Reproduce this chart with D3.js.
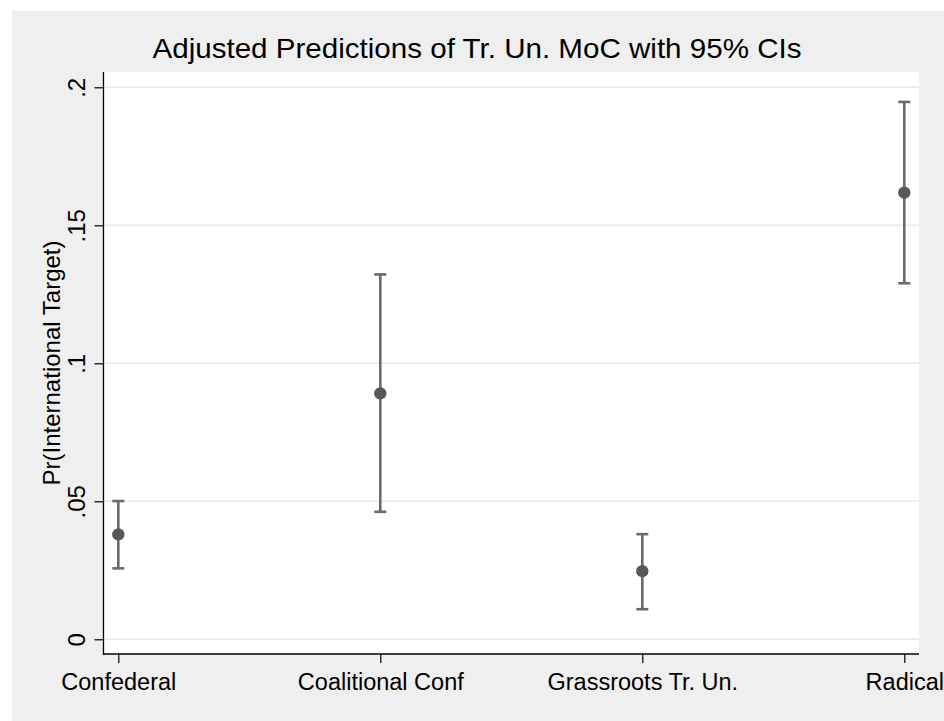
<!DOCTYPE html>
<html>
<head>
<meta charset="utf-8">
<script src="https://cdn.jsdelivr.net/npm/d3@7"></script>
<style>
  html, body { margin: 0; padding: 0; background: #ffffff; }
  svg { display: block; font-family: "Liberation Sans", Arial, Helvetica, sans-serif; }
</style>
</head>
<body>
<svg id="chart" width="944" height="721"></svg>
<script>
// ---- data ----
const categories = ["Confederal", "Coalitional Conf", "Grassroots Tr. Un.", "Radical"];
const estimates  = [0.0380, 0.0891, 0.0247, 0.1618];
const ciLower    = [0.0257, 0.0462, 0.0109, 0.1290];
const ciUpper    = [0.0501, 0.1322, 0.0381, 0.1947];
const yTicks     = [0, 0.05, 0.10, 0.15, 0.20];
const yTickLabels = ["0", ".05", ".1", ".15", ".2"];
const titleText  = "Adjusted Predictions of Tr. Un. MoC with 95% CIs";
const yTitle     = "Pr(International Target)";

const svg = d3.select("#chart");

// background regions
svg.append("rect").attr("x", 12).attr("y", 11).attr("width", 932).attr("height", 710).attr("fill", "#efefef");

const plot = { left: 103.5, right: 919, top: 72, bottom: 654 };
svg.append("rect").attr("x", plot.left).attr("y", plot.top)
  .attr("width", plot.right - plot.left).attr("height", plot.bottom - plot.top).attr("fill", "#ffffff");

const x = d3.scalePoint().domain(categories).range([118.3, 904.3]);
const y = d3.scaleLinear().domain([0, 0.2]).range([639.3, 87.3]);

// gridlines
svg.append("g").selectAll("line").data(yTicks).join("line")
  .attr("x1", plot.left).attr("x2", plot.right)
  .attr("y1", d => y(d)).attr("y2", d => y(d))
  .attr("stroke", "#e8e8e8").attr("stroke-width", 1.5);

// y axis
const yAxis = d3.axisLeft(y).tickValues(yTicks).tickSize(9)
  .tickFormat((d, i) => yTickLabels[i]);
const gy = svg.append("g").attr("transform", `translate(${plot.left},0)`).call(yAxis);
gy.select(".domain").remove();
gy.selectAll(".tick line").attr("stroke", "#000").attr("stroke-width", 1.2);
gy.selectAll(".tick text")
  .attr("x", null).attr("dy", null)
  .attr("transform", "translate(-18.5,0) rotate(-90)")
  .attr("text-anchor", "middle")
  .attr("font-size", 24).attr("fill", "#000")
  .attr("font-family", "'Liberation Sans', Arial, sans-serif");
svg.append("line").attr("x1", plot.left).attr("x2", plot.left)
  .attr("y1", plot.top).attr("y2", plot.bottom + 0.6)
  .attr("stroke", "#000").attr("stroke-width", 1.3);

// x axis
const xAxis = d3.axisBottom(x).tickSize(9).tickSizeOuter(0);
const gx = svg.append("g").attr("transform", `translate(0,${plot.bottom})`).call(xAxis);
gx.select(".domain").remove();
gx.selectAll(".tick line").attr("stroke", "#000").attr("stroke-width", 1.2);
gx.selectAll(".tick text")
  .attr("y", 36).attr("dy", null)
  .attr("font-size", 23.5).attr("fill", "#000")
  .attr("font-family", "'Liberation Sans', Arial, sans-serif");
svg.append("line").attr("x1", plot.left - 0.6).attr("x2", plot.right)
  .attr("y1", plot.bottom).attr("y2", plot.bottom)
  .attr("stroke", "#000").attr("stroke-width", 1.3);

// error bars
const rows = categories.map((c, i) => ({ c, est: estimates[i], lo: ciLower[i], hi: ciUpper[i] }));
const eb = svg.append("g");
const barColor = "#6a6a6a";
eb.selectAll("line.v").data(rows).join("line").attr("class", "v")
  .attr("x1", d => x(d.c)).attr("x2", d => x(d.c))
  .attr("y1", d => y(d.lo)).attr("y2", d => y(d.hi))
  .attr("stroke", barColor).attr("stroke-width", 2.6);
eb.selectAll("line.hi").data(rows).join("line").attr("class", "hi")
  .attr("x1", d => x(d.c) - 6).attr("x2", d => x(d.c) + 6)
  .attr("y1", d => y(d.hi)).attr("y2", d => y(d.hi))
  .attr("stroke", barColor).attr("stroke-width", 2.6);
eb.selectAll("line.lo").data(rows).join("line").attr("class", "lo")
  .attr("x1", d => x(d.c) - 6).attr("x2", d => x(d.c) + 6)
  .attr("y1", d => y(d.lo)).attr("y2", d => y(d.lo))
  .attr("stroke", barColor).attr("stroke-width", 2.6);

// points
svg.append("g").selectAll("circle").data(rows).join("circle")
  .attr("cx", d => x(d.c)).attr("cy", d => y(d.est)).attr("r", 6.2)
  .attr("fill", "#585858");

// titles
svg.append("text").attr("x", 477).attr("y", 58)
  .attr("text-anchor", "middle").attr("font-size", 28.5).attr("fill", "#000")
  .attr("textLength", 649).attr("lengthAdjust", "spacingAndGlyphs")
  .text(titleText);

svg.append("text")
  .attr("transform", `translate(60,${(plot.top + plot.bottom) / 2}) rotate(-90)`)
  .attr("text-anchor", "middle").attr("font-size", 24).attr("fill", "#000")
  .text(yTitle);
</script>
</body>
</html>
